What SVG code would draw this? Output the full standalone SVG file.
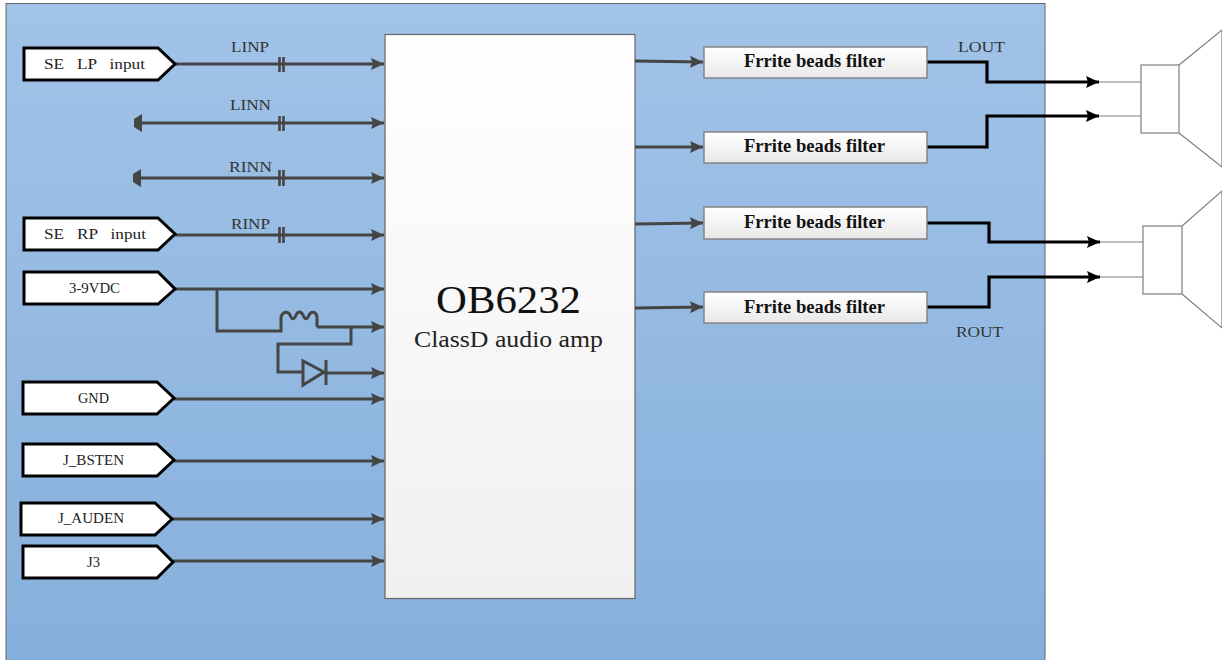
<svg xmlns="http://www.w3.org/2000/svg" width="1222" height="660" viewBox="0 0 1222 660">
<style>
text{font-family:"Liberation Serif","Times New Roman",serif;fill:#222;text-anchor:middle;white-space:pre}
.port{fill:#fff;stroke:#000;stroke-width:3}
.pl{font-size:14.500px}
.sig{font-size:15px;fill:#333}
.w{fill:none;stroke:#454545;stroke-width:3}
.wa{marker-end:url(#ga)}
.b{fill:none;stroke:#000;stroke-width:3.200;marker-end:url(#ba)}
.f{fill:url(#fg);stroke:#7f7f7f;stroke-width:1.4}
.ft{font-size:18px;font-weight:bold;fill:#111}
.sp{fill:#fff;stroke:#7f7f7f;stroke-width:1.2}
.thin{fill:none;stroke:#7f7f7f;stroke-width:1.2}
.cap{fill:none;stroke:#454545;stroke-width:2.600}
</style>
<defs>
<linearGradient id="bg" x1="0" y1="0" x2="0" y2="1"><stop offset="0" stop-color="#a2c3e8"/><stop offset="1" stop-color="#86b0dc"/></linearGradient>
<linearGradient id="mg" x1="0" y1="0" x2="0" y2="1"><stop offset="0" stop-color="#fff"/><stop offset="1" stop-color="#f0f0f0"/></linearGradient>
<linearGradient id="fg" x1="0" y1="0" x2="0" y2="1"><stop offset="0" stop-color="#fff"/><stop offset="1" stop-color="#e8e8e8"/></linearGradient>
<marker id="ga" markerUnits="userSpaceOnUse" markerWidth="14" markerHeight="14" refX="13" refY="7" orient="auto"><path d="M0 1L13 7L0 13L2 7Z" fill="#454545"/></marker>
<marker id="ba" markerUnits="userSpaceOnUse" markerWidth="14" markerHeight="14" refX="13" refY="7" orient="auto"><path d="M0 1L13 7L0 13L2 7Z" fill="#000"/></marker>
</defs>
<g id="background"><rect x="6" y="3.500" width="1039" height="657" fill="url(#bg)" stroke="#666" stroke-width="1"/></g>
<g id="amp"><rect x="385" y="34.500" width="250" height="564" fill="url(#mg)" stroke="#666" stroke-width="1.2"/>
<text x="508.500" y="313" textLength="145" lengthAdjust="spacingAndGlyphs" style="font-size:41px;fill:#111">OB6232</text>
<text x="508.500" y="347" textLength="189" lengthAdjust="spacingAndGlyphs" style="font-size:24px">ClassD audio amp</text></g>
<g id="connectors">
<path class="w wa" d="M175 64H384"/>
<path class="w wa" d="M140 123H384"/>
<path class="w wa" d="M140 178H384"/>
<path class="w wa" d="M175 235H384"/>
<path d="M142 114V132L134 127V119Z" fill="#454545"/>
<path d="M141 169V187L133 182V174Z" fill="#454545"/>
<path class="cap" d="M279.500 57V72M283.500 57V72M279.500 116V131M283.500 116V131M279.500 170V186M283.500 170V186M279.500 227V243M283.500 227V243"/>
<path class="w wa" d="M175 289H384"/>
<path class="w" d="M217 289V331H281V317C283 311 288 311 290 315C292 320 294 320 296 315C298 311 301 311 303 315C305 320 307 320 309 315C311 311 316 311 317 317V327"/>
<path class="w wa" d="M317 327H384"/>
<path class="w" d="M351 327V344H278V372H303"/>
<path class="w" d="M303 361V385L324 372Z"/>
<path class="w" d="M326 360V385" stroke-width="2"/>
<path class="w wa" d="M324 373H384"/>
<path class="w wa" d="M174 399H384"/>
<path class="w wa" d="M174 461H384"/>
<path class="w wa" d="M172 519H384"/>
<path class="w wa" d="M173 561H384"/>
<path class="w wa" d="M635 61L703 62"/>
<path class="w wa" d="M635 147H703"/>
<path class="w wa" d="M635 224L703 223"/>
<path class="w wa" d="M635 308L703 307"/>
<path class="b" d="M927 62H987V82H1099"/>
<path class="b" d="M927 147H987V116H1099"/>
<path class="b" d="M927 223H989V242H1100"/>
<path class="b" d="M927 307H989V277H1100"/>
<path class="thin" d="M1099 82H1141M1099 116H1141M1100 242H1143M1100 277H1143"/>
</g>
<g id="port-se-lp"><path class="port" d="M24 48H158L175 64L158 80H24Z"/><text class="pl" x="94.500" y="69" textLength="101" lengthAdjust="spacingAndGlyphs">SE   LP   input</text></g>
<g id="port-se-rp"><path class="port" d="M24 218H158L175 234L158 250H24Z"/><text class="pl" x="95" y="239" textLength="102" lengthAdjust="spacingAndGlyphs">SE   RP   input</text></g>
<g id="port-vdc"><path class="port" d="M24 272H158L175 289L158 304H24Z"/><text class="pl" x="94.500" y="293" textLength="51" lengthAdjust="spacingAndGlyphs">3-9VDC</text></g>
<g id="port-gnd"><path class="port" d="M23 382H157L174 398L157 414H23Z"/><text class="pl" x="93.500" y="403" textLength="31" lengthAdjust="spacingAndGlyphs">GND</text></g>
<g id="port-bsten"><path class="port" d="M23 444H157L174 460L157 476H23Z"/><text class="pl" x="93.500" y="465" textLength="61" lengthAdjust="spacingAndGlyphs">J_BSTEN</text></g>
<g id="port-auden"><path class="port" d="M21 503H155L172 519L155 535H21Z"/><text class="pl" x="91" y="523" textLength="66" lengthAdjust="spacingAndGlyphs">J_AUDEN</text></g>
<g id="port-j3"><path class="port" d="M23 546H157L173 562L157 578H23Z"/><text class="pl" x="93.500" y="567" textLength="13" lengthAdjust="spacingAndGlyphs">J3</text></g>
<g id="labels">
<text class="sig" x="250" y="52" textLength="38" lengthAdjust="spacingAndGlyphs">LINP</text>
<text class="sig" x="250.500" y="110" textLength="41" lengthAdjust="spacingAndGlyphs">LINN</text>
<text class="sig" x="250.500" y="172" textLength="43" lengthAdjust="spacingAndGlyphs">RINN</text>
<text class="sig" x="250.500" y="229" textLength="39" lengthAdjust="spacingAndGlyphs">RINP</text>
<text class="sig" x="981.500" y="52" textLength="47" lengthAdjust="spacingAndGlyphs">LOUT</text>
<text class="sig" x="979.500" y="337" textLength="47" lengthAdjust="spacingAndGlyphs">ROUT</text>
</g>
<g id="filter-1"><rect class="f" x="704" y="47" width="223" height="31"/><text class="ft" x="814.500" y="67" textLength="141" lengthAdjust="spacingAndGlyphs">Frrite beads filter</text></g>
<g id="filter-2"><rect class="f" x="704" y="132" width="223" height="31"/><text class="ft" x="814.500" y="152" textLength="141" lengthAdjust="spacingAndGlyphs">Frrite beads filter</text></g>
<g id="filter-3"><rect class="f" x="704" y="207" width="223" height="32"/><text class="ft" x="814.500" y="228" textLength="141" lengthAdjust="spacingAndGlyphs">Frrite beads filter</text></g>
<g id="filter-4"><rect class="f" x="704" y="292" width="223" height="31"/><text class="ft" x="814.500" y="313" textLength="141" lengthAdjust="spacingAndGlyphs">Frrite beads filter</text></g>
<g id="speaker-l"><rect class="sp" x="1141" y="65" width="38" height="68"/><path class="thin" d="M1179 65L1222 30V167L1179 133"/></g>
<g id="speaker-r"><rect class="sp" x="1143" y="226" width="39" height="68"/><path class="thin" d="M1182 226L1222 191V328L1182 294"/></g>
</svg>
